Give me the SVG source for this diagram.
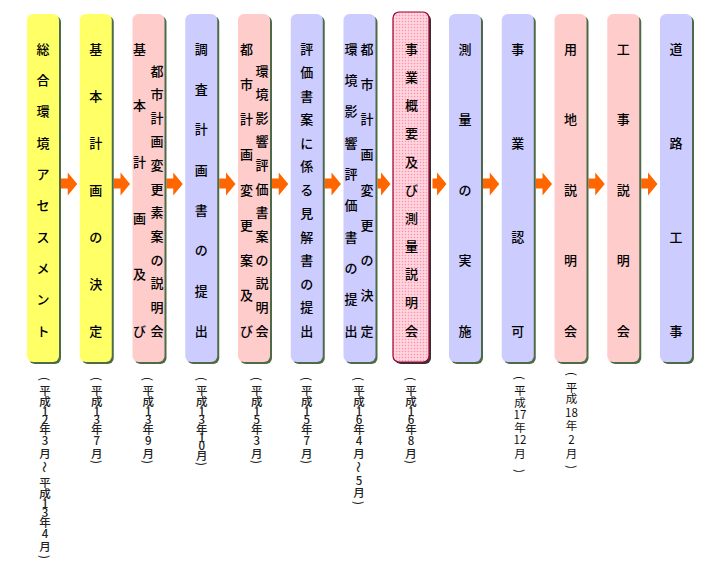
<svg xmlns="http://www.w3.org/2000/svg" width="704" height="569" viewBox="0 0 704 569">
<style>
.sh{fill:#4d6b47}
.y{fill:#ffff66}
.p{fill:#ffcccc}
.v{fill:#ccccff}
.lbl{font-family:"Noto Sans CJK JP","Noto Sans CJK SC",sans-serif;font-size:13px;font-weight:500;text-anchor:middle;dominant-baseline:central;fill:#000}
.dt{font-family:"Noto Sans CJK JP","Noto Sans CJK SC",sans-serif;font-size:11.5px;font-weight:500;text-anchor:middle;dominant-baseline:central;fill:#222}
.dt2{font-family:"Noto Sans CJK JP","Noto Sans CJK SC",sans-serif;font-size:11.5px;text-anchor:middle;dominant-baseline:central;fill:#111}
.ar{fill:#ff6600}
</style>
<defs>
<pattern id="dots" width="3" height="3" patternUnits="userSpaceOnUse">
<rect width="3" height="3" fill="#ffc8d4"/>
<rect x="0" y="0" width="1" height="1" fill="#ff8fb0"/>
<rect x="1.5" y="1.5" width="1" height="1" fill="#ffffff"/>
</pattern>
</defs>
<rect width="704" height="569" fill="#ffffff"/>

<g id="connectors">
<path class="ar" d="M61,178.5H67.75V172.5L77.25,184L67.75,195.5V188.5H61Z"/>
<path class="ar" d="M113.75,178.5H120.5V172.5L130,184L120.5,195.5V188.5H113.75Z"/>
<path class="ar" d="M166.5,178.5H173.25V172.5L182.75,184L173.25,195.5V188.5H166.5Z"/>
<path class="ar" d="M219.25,178.5H226V172.5L235.5,184L226,195.5V188.5H219.25Z"/>
<path class="ar" d="M272,178.5H278.75V172.5L288.25,184L278.75,195.5V188.5H272Z"/>
<path class="ar" d="M324.75,178.5H331.5V172.5L341,184L331.5,195.5V188.5H324.75Z"/>
<path class="ar" d="M377.5,178.5H381V172.5L390.5,184L381,195.5V188.5H377.5Z"/>
<path class="ar" d="M432.5,178.5H437V172.5L446.5,184L437,195.5V188.5H432.5Z"/>
<path class="ar" d="M483,178.5H489.75V172.5L499.25,184L489.75,195.5V188.5H483Z"/>
<path class="ar" d="M535.75,178.5H542.5V172.5L552,184L542.5,195.5V188.5H535.75Z"/>
<path class="ar" d="M588.5,178.5H595.25V172.5L604.75,184L595.25,195.5V188.5H588.5Z"/>
<path class="ar" d="M641.25,178.5H648V172.5L657.5,184L648,195.5V188.5H641.25Z"/>
</g>

<g id="n1">
<rect class="sh" x="29" y="16" width="32" height="348" rx="6"/>
<rect class="y" x="27" y="14" width="32" height="348" rx="6"/>
<text class="lbl" x="43 43 43 43 43 43 43 43 43 43" y="48.3 79.6 110.9 142.2 173.5 204.8 236.1 267.4 298.7 330">総合環境アセスメント</text>
<text class="dt" transform="translate(45,379) rotate(90)">(</text>
<text class="dt" x="45 45 45 45 45 45 45" y="390 400.5 410.5 418.5 428.5 439.5 452.5">平成12年3月</text>
<text class="dt" transform="translate(45,467) rotate(90)">～</text>
<text class="dt" x="45 45 45 45 45 45 45" y="481.5 492.5 503 511.5 521.5 533 546">平成13年4月</text>
<text class="dt" transform="translate(45,557) rotate(90)">)</text>
</g>

<g id="n2">
<rect class="sh" x="81.75" y="16" width="32" height="348" rx="6"/>
<rect class="y" x="79.75" y="14" width="32" height="348" rx="6"/>
<text class="lbl" x="95.75 95.75 95.75 95.75 95.75 95.75 95.75" y="48.3 95.3 142.3 189.2 236.2 283.1 330">基本計画の決定</text>
<text class="dt" transform="translate(96.7,379) rotate(90)">(</text>
<text class="dt" x="96.7 96.7 96.7 96.7 96.7 96.7 96.7" y="390 400.5 410.5 418.5 428.5 439.5 452.5">平成13年7月</text>
<text class="dt" transform="translate(96.7,462) rotate(90)">)</text>
</g>

<g id="n3">
<rect class="sh" x="134.5" y="16" width="32" height="348" rx="6"/>
<rect class="p" x="132.5" y="14" width="32" height="348" rx="6"/>
<text class="lbl" x="139.5 139.5 139.5 139.5 139.5 139.5" y="48.3 104.6 161 217.3 273.7 330">基本計画及び</text>
<text class="lbl" x="157 157 157 157 157 157 157 157 157 157 157 157" y="70 93.6 117.3 140.9 164.5 188.2 211.8 235.5 259.1 282.7 306.4 330">都市計画変更素案の説明会</text>
<text class="dt" transform="translate(148.3,379) rotate(90)">(</text>
<text class="dt" x="148.3 148.3 148.3 148.3 148.3 148.3 148.3" y="390 400.5 410.5 418.5 428.5 439.5 452.5">平成13年9月</text>
<text class="dt" transform="translate(148.3,462) rotate(90)">)</text>
</g>

<g id="n4">
<rect class="sh" x="187.25" y="16" width="32" height="348" rx="6"/>
<rect class="v" x="185.25" y="14" width="32" height="348" rx="6"/>
<text class="lbl" x="201.25 201.25 201.25 201.25 201.25 201.25 201.25 201.25" y="48.3 88.6 128.9 169.2 209.5 249.7 290 330">調査計画書の提出</text>
<text class="dt" transform="translate(201.7,379) rotate(90)">(</text>
<text class="dt" x="201.7 201.7 201.7 201.7 201.7 201.7 201.7 201.7" y="390 400.5 410.5 418.5 428.5 436.5 444.5 455">平成13年10月</text>
<text class="dt" transform="translate(201.7,464) rotate(90)">)</text>
</g>

<g id="n5">
<rect class="sh" x="240" y="16" width="32" height="348" rx="6"/>
<rect class="p" x="238" y="14" width="32" height="348" rx="6"/>
<text class="lbl" x="246.5 246.5 246.5 246.5 246.5 246.5 246.5 246.5 246.5" y="48.3 83.5 118.7 153.9 189.2 224.4 259.6 294.8 330">都市計画変更案及び</text>
<text class="lbl" x="262 262 262 262 262 262 262 262 262 262 262 262" y="70 93.6 117.3 140.9 164.5 188.2 211.8 235.5 259.1 282.7 306.4 330">環境影響評価書案の説明会</text>
<text class="dt" transform="translate(256.7,379) rotate(90)">(</text>
<text class="dt" x="256.7 256.7 256.7 256.7 256.7 256.7 256.7" y="390 400.5 410.5 418.5 428.5 439.5 452.5">平成15年3月</text>
<text class="dt" transform="translate(256.7,462) rotate(90)">)</text>
</g>

<g id="n6">
<rect class="sh" x="292.75" y="16" width="32" height="348" rx="6"/>
<rect class="v" x="290.75" y="14" width="32" height="348" rx="6"/>
<text class="lbl" x="306.75 306.75 306.75 306.75 306.75 306.75 306.75 306.75 306.75 306.75 306.75 306.75 306.75" y="48.3 71.8 95.2 118.7 142.2 165.6 189.1 212.6 236.1 259.5 283 306.5 330">評価書案に係る見解書の提出</text>
<text class="dt" transform="translate(306.7,379) rotate(90)">(</text>
<text class="dt" x="306.7 306.7 306.7 306.7 306.7 306.7 306.7" y="390 400.5 410.5 418.5 428.5 439.5 452.5">平成15年7月</text>
<text class="dt" transform="translate(306.7,462) rotate(90)">)</text>
</g>

<g id="n7">
<rect class="sh" x="345.5" y="16" width="32" height="348" rx="6"/>
<rect class="v" x="343.5" y="14" width="32" height="348" rx="6"/>
<text class="lbl" x="367 367 367 367 367 367 367 367 367" y="48.3 83.5 118.7 153.9 189.2 224.4 259.6 294.8 330">都市計画変更の決定</text>
<text class="lbl" x="351 351 351 351 351 351 351 351 351 351" y="48.3 79.6 110.9 142.2 173.5 204.8 236.1 267.4 298.7 330">環境影響評価書の提出</text>
<text class="dt" transform="translate(359,379) rotate(90)">(</text>
<text class="dt" x="359 359 359 359 359 359 359" y="390 400.5 410.5 418.5 428.5 439.5 452.5">平成16年4月</text>
<text class="dt" transform="translate(359,467) rotate(90)">～</text>
<text class="dt" x="359 359" y="480 492">5月</text>
<text class="dt" transform="translate(359,503) rotate(90)">)</text>
</g>

<g id="n8">
<rect x="395" y="14" width="36" height="350" rx="6" fill="#333333"/>
<rect x="393" y="12" width="36" height="350" rx="6" fill="url(#dots)" stroke="#990033" stroke-width="1.2"/>
<text class="lbl" x="411.5 411.5 411.5 411.5 411.5 411.5 411.5 411.5 411.5 411.5 411.5" y="48.3 76.5 104.6 132.8 161 189.2 217.3 245.5 273.7 301.8 330">事業概要及び測量説明会</text>
<text class="dt" transform="translate(411,379) rotate(90)">(</text>
<text class="dt" x="411 411 411 411 411 411 411" y="390 400.5 410.5 418.5 428.5 439.5 452.5">平成16年8月</text>
<text class="dt" transform="translate(411,462) rotate(90)">)</text>
</g>

<g id="n9">
<rect class="sh" x="451" y="16" width="32" height="348" rx="6"/>
<rect class="v" x="449" y="14" width="32" height="348" rx="6"/>
<text class="lbl" x="465 465 465 465 465" y="48.3 118.7 189.2 259.6 330">測量の実施</text>
</g>

<g id="n10">
<rect class="sh" x="503.75" y="16" width="32" height="348" rx="6"/>
<rect class="v" x="501.75" y="14" width="32" height="348" rx="6"/>
<text class="lbl" x="517.75 517.75 517.75 517.75" y="48.3 142.2 236.1 330">事業認可</text>
<text class="dt2" transform="translate(520,378) rotate(90)">(</text>
<text class="dt2" x="520 520" y="390 401.5">平成</text>
<text class="dt2" x="520" y="414">17</text>
<text class="dt2" x="520" y="426.5">年</text>
<text class="dt2" x="520" y="439">12</text>
<text class="dt2" x="520" y="453">月</text>
<text class="dt2" transform="translate(520,471) rotate(90)">)</text>
</g>

<g id="n11">
<rect class="sh" x="556.5" y="16" width="32" height="348" rx="6"/>
<rect class="p" x="554.5" y="14" width="32" height="348" rx="6"/>
<text class="lbl" x="570.5 570.5 570.5 570.5 570.5" y="48.3 118.7 189.2 259.6 330">用地説明会</text>
<text class="dt2" transform="translate(571.5,374) rotate(90)">(</text>
<text class="dt2" x="571.5 571.5" y="386.5 398">平成</text>
<text class="dt2" x="571.5" y="412">18</text>
<text class="dt2" x="571.5" y="425">年</text>
<text class="dt2" x="571.5" y="439">2</text>
<text class="dt2" x="571.5" y="453">月</text>
<text class="dt2" transform="translate(571.5,467) rotate(90)">)</text>
</g>

<g id="n12">
<rect class="sh" x="609.25" y="16" width="32" height="348" rx="6"/>
<rect class="p" x="607.25" y="14" width="32" height="348" rx="6"/>
<text class="lbl" x="623.25 623.25 623.25 623.25 623.25" y="48.3 118.7 189.2 259.6 330">工事説明会</text>
</g>

<g id="n13">
<rect class="sh" x="662" y="16" width="32" height="348" rx="6"/>
<rect class="v" x="660" y="14" width="32" height="348" rx="6"/>
<text class="lbl" x="676 676 676 676" y="48.3 142.2 236.1 330">道路工事</text>
</g>
</svg>
